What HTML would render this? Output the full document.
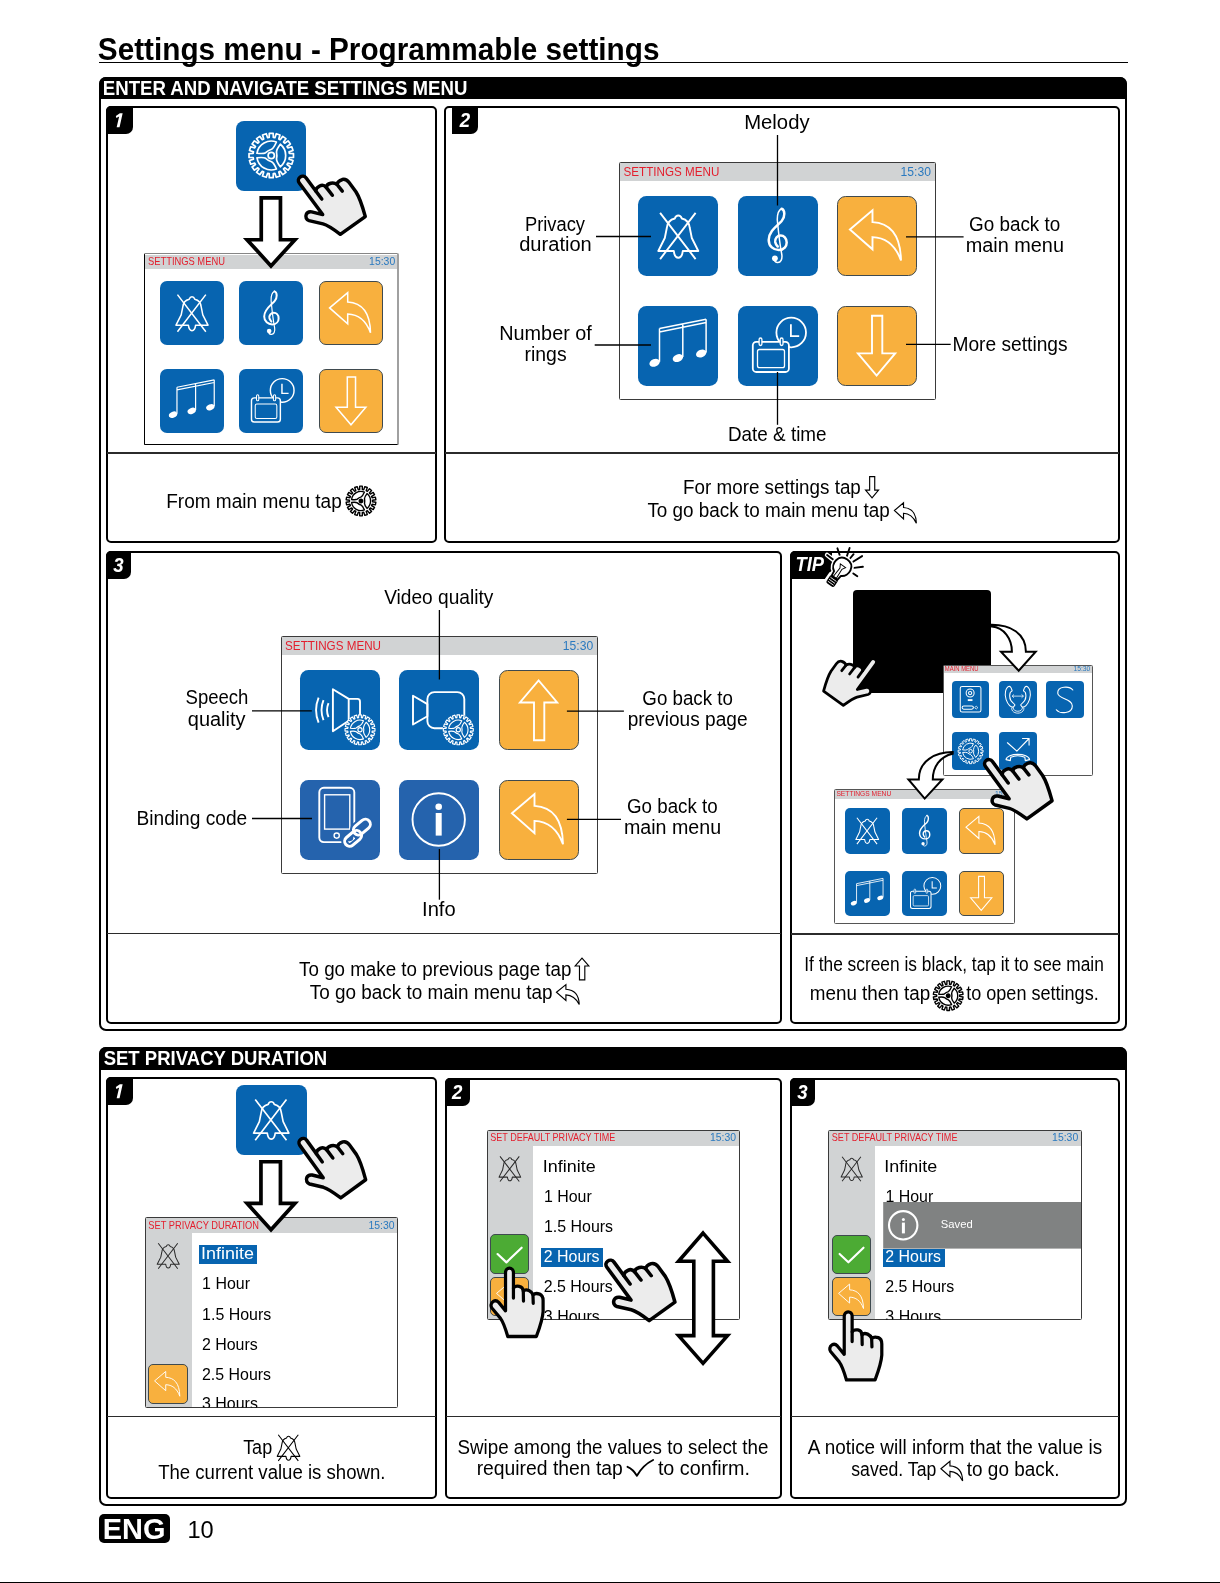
<!DOCTYPE html>
<html><head><meta charset="utf-8"><style>
html,body{margin:0;padding:0;background:#fff}
body{width:1220px;height:1583px;overflow:hidden;position:relative;font-family:"Liberation Sans",sans-serif}
.t{position:absolute;white-space:nowrap;line-height:1;transform-origin:0 0;color:#000;will-change:transform}
.b{position:absolute;box-sizing:border-box}
</style></head><body>
<svg width="0" height="0" style="position:absolute"><defs><symbol id="gear" viewBox="-25 -25 50 50"><g fill="none" stroke="currentColor" stroke-width="1.7" stroke-linejoin="round"><path d="M-2.03 -17.89 L-1.94 -22.01 L1.94 -22.01 L2.03 -17.89 L3.59 -17.64 L4.96 -21.54 L8.65 -20.34 L7.46 -16.38 L8.87 -15.66 L11.37 -18.95 L14.51 -16.67 L12.16 -13.28 L13.28 -12.16 L16.67 -14.51 L18.95 -11.37 L15.66 -8.87 L16.38 -7.46 L20.34 -8.65 L21.54 -4.96 L17.64 -3.59 L17.89 -2.03 L22.01 -1.94 L22.01 1.94 L17.89 2.03 L17.64 3.59 L21.54 4.96 L20.34 8.65 L16.38 7.46 L15.66 8.87 L18.95 11.37 L16.67 14.51 L13.28 12.16 L12.16 13.28 L14.51 16.67 L11.37 18.95 L8.87 15.66 L7.46 16.38 L8.65 20.34 L4.96 21.54 L3.59 17.64 L2.03 17.89 L1.94 22.01 L-1.94 22.01 L-2.03 17.89 L-3.59 17.64 L-4.96 21.54 L-8.65 20.34 L-7.46 16.38 L-8.87 15.66 L-11.37 18.95 L-14.51 16.67 L-12.16 13.28 L-13.28 12.16 L-16.67 14.51 L-18.95 11.37 L-15.66 8.87 L-16.38 7.46 L-20.34 8.65 L-21.54 4.96 L-17.64 3.59 L-17.89 2.03 L-22.01 1.94 L-22.01 -1.94 L-17.89 -2.03 L-17.64 -3.59 L-21.54 -4.96 L-20.34 -8.65 L-16.38 -7.46 L-15.66 -8.87 L-18.95 -11.37 L-16.67 -14.51 L-13.28 -12.16 L-12.16 -13.28 L-14.51 -16.67 L-11.37 -18.95 L-8.87 -15.66 L-7.46 -16.38 L-8.65 -20.34 L-4.96 -21.54 L-3.59 -17.64Z"/><circle r="3.1"/><path d="M-14.12 -2.24 A14.3 14.3 0 0 1 5.12 -13.35 Q2.59 -7.43 0.32 -6.19 Q-2.95 -5.10 -5.52 -2.81 Q-7.73 -1.47 -14.12 -2.24Z M9.00 -11.11 A14.3 14.3 0 0 1 9.00 11.11 Q5.14 5.95 5.20 3.38 Q5.89 -0.00 5.20 -3.38 Q5.14 -5.95 9.00 -11.11Z M5.12 13.35 A14.3 14.3 0 0 1 -14.12 2.24 Q-7.73 1.47 -5.52 2.81 Q-2.94 5.10 0.32 6.19 Q2.59 7.43 5.12 13.35Z "/></g></symbol><symbol id="gearb" viewBox="-25 -25 50 50"><g fill="none" stroke="currentColor" stroke-width="2.1" stroke-linejoin="round"><path d="M-1.99 -17.19 L-1.94 -22.22 L1.94 -22.22 L1.99 -17.19 L4.01 -16.83 L5.77 -21.54 L9.42 -20.21 L7.75 -15.47 L9.52 -14.44 L12.79 -18.27 L15.77 -15.77 L12.57 -11.89 L13.89 -10.31 L18.27 -12.79 L20.21 -9.42 L15.88 -6.87 L16.58 -4.94 L21.54 -5.77 L22.22 -1.94 L17.27 -1.03 L17.27 1.03 L22.22 1.94 L21.54 5.77 L16.58 4.94 L15.88 6.87 L20.21 9.42 L18.27 12.79 L13.89 10.31 L12.57 11.89 L15.77 15.77 L12.79 18.27 L9.52 14.44 L7.75 15.47 L9.42 20.21 L5.77 21.54 L4.01 16.83 L1.99 17.19 L1.94 22.22 L-1.94 22.22 L-1.99 17.19 L-4.01 16.83 L-5.77 21.54 L-9.42 20.21 L-7.75 15.47 L-9.52 14.44 L-12.79 18.27 L-15.77 15.77 L-12.57 11.89 L-13.89 10.31 L-18.27 12.79 L-20.21 9.42 L-15.88 6.87 L-16.58 4.94 L-21.54 5.77 L-22.22 1.94 L-17.27 1.03 L-17.27 -1.03 L-22.22 -1.94 L-21.54 -5.77 L-16.58 -4.94 L-15.88 -6.87 L-20.21 -9.42 L-18.27 -12.79 L-13.89 -10.31 L-12.57 -11.89 L-15.77 -15.77 L-12.79 -18.27 L-9.52 -14.44 L-7.75 -15.47 L-9.42 -20.21 L-5.77 -21.54 L-4.01 -16.83Z"/><circle r="2.6" fill="currentColor"/><path d="M-14.12 -2.24 A14.3 14.3 0 0 1 5.12 -13.35 Q2.59 -7.43 0.32 -6.19 Q-2.95 -5.10 -5.52 -2.81 Q-7.73 -1.47 -14.12 -2.24Z M9.00 -11.11 A14.3 14.3 0 0 1 9.00 11.11 Q5.14 5.95 5.20 3.38 Q5.89 -0.00 5.20 -3.38 Q5.14 -5.95 9.00 -11.11Z M5.12 13.35 A14.3 14.3 0 0 1 -14.12 2.24 Q-7.73 1.47 -5.52 2.81 Q-2.94 5.10 0.32 6.19 Q2.59 7.43 5.12 13.35Z "/></g></symbol><symbol id="bell" viewBox="0 0 80 80"><g fill="none" stroke="currentColor" stroke-width="1.9" stroke-linejoin="round"><path d="M40 19.5 C38 19.5 37 21 36.5 22.5 C31 23.8 29 27 28.5 32 L26.5 42 L20 55 L35.5 55 C36 59.5 37.8 61.8 40 61.8 C42.2 61.8 44 59.5 44.5 55 L60 55 L53.5 42 L51.5 32 C51 27 49 23.8 43.5 22.5 C43 21 42 19.5 40 19.5 Z"/><path d="M21.8 16.8 L57.3 63.1 M57.3 16.8 L21.8 63.1"/></g></symbol><symbol id="clef" viewBox="0 0 80 80"><g fill="none" stroke="currentColor" stroke-linecap="round"><path d="M43.9 12.7 C47.5 14 47.5 21 44 25 C40 29.5 31 35 31 44 C31 50.5 36 54 41 54 C46.5 54 49 50 49 46.5 C49 42 46 39.5 43 39.5 C39.5 39.5 37 42.5 37.5 46 C38 48.5 39.5 50 40 50.5" stroke-width="2.5"/><path d="M43.9 12.7 C41 14 39.5 19 39.6 24 L40.2 30 C41 38 42.5 50 44 58 C45 63 43 67 39.5 66.5 C37.5 66.2 36.5 64.5 36.5 62.5" stroke-width="1.5"/></g><circle cx="37.2" cy="62.3" r="2.9" fill="currentColor"/></symbol><symbol id="back" viewBox="0 0 80 80"><path d="M12.9 33.4 L35.5 14.3 L35.5 26.1 C52 27 63.5 37 64 64.5 C58 48 48 41.5 35.5 41.1 L35.5 53.3 Z" fill="none" stroke="currentColor" stroke-width="1.9" stroke-linejoin="miter"/></symbol><symbol id="notes" viewBox="0 0 80 80"><g fill="currentColor"><ellipse cx="16.3" cy="57.1" rx="5.4" ry="3.7" transform="rotate(-22 16.3 57.1)"/><ellipse cx="39.6" cy="52.4" rx="5.4" ry="3.7" transform="rotate(-22 39.6 52.4)"/><ellipse cx="62.9" cy="47.8" rx="5.4" ry="3.7" transform="rotate(-22 62.9 47.8)"/></g><g stroke="currentColor" stroke-width="1.5" fill="none"><path d="M21.2 56 V22.8 M44.5 51.3 V18.2 M67.8 46.7 V13.5 M21.2 22.8 L67.8 13.5 M21.2 26.2 L67.8 16.9"/></g></symbol><symbol id="cal" viewBox="0 0 80 80"><g fill="none" stroke="currentColor" stroke-width="1.8"><circle cx="53.5" cy="26.8" r="14.8"/><path d="M53.2 18.5 V30.5 H61.5"/><rect x="15.1" y="36.1" width="36.1" height="30.2" rx="3.5" fill="#0764b0"/><rect x="19.8" y="43.8" width="27" height="18.2" rx="2" stroke-width="1.3"/><rect x="21.4" y="32.3" width="2.8" height="7.5" rx="1.4" fill="#0764b0" stroke-width="1.3"/><rect x="42.5" y="32.3" width="2.8" height="7.5" rx="1.4" fill="#0764b0" stroke-width="1.3"/></g></symbol><symbol id="down" viewBox="0 0 80 80"><path d="M35 10 H45.3 V47.7 H58.2 L39.6 69.8 L20.9 47.7 H35 Z" fill="none" stroke="currentColor" stroke-width="1.9"/></symbol><symbol id="up" viewBox="0 0 80 80"><path d="M35 70 H45.3 V32.3 H58.2 L39.6 10.2 L20.9 32.3 H35 Z" fill="none" stroke="currentColor" stroke-width="1.9"/></symbol><symbol id="speaker" viewBox="0 0 80 80"><g fill="none" stroke="#fff" stroke-width="1.9" stroke-linejoin="round"><path d="M32.9 19 L48.7 28.7 L48.7 50.5 L32.9 61 Z"/><path d="M48.7 28.7 H57.5 Q60 28.7 60 31.5 V46"/><path d="M28.5 33 Q25.5 40 28.5 47 M23.5 30 Q19.5 40 23.5 50 M18.6 27.5 Q13.5 40 18.6 52.5"/></g><circle cx="60" cy="59.6" r="15" fill="#0764b0"/><use href="#gear" x="43" y="42.6" width="34" height="34" style="color:#fff"/></symbol><symbol id="camera" viewBox="0 0 80 80"><g fill="none" stroke="#fff" stroke-width="1.9" stroke-linejoin="round"><path d="M14 25.6 L28.4 33.9 L28.4 46 L14 54.3 Z"/><rect x="28.4" y="21.9" width="36.9" height="36.1" rx="7"/></g><circle cx="59.3" cy="59.6" r="15.5" fill="#0764b0"/><use href="#gear" x="42.3" y="42.6" width="34" height="34" style="color:#fff"/></symbol><symbol id="phone" viewBox="0 0 80 80"><g fill="none" stroke="#fff" stroke-width="1.9"><rect x="19.3" y="8" width="35" height="54.3" rx="4.5"/><rect x="24.6" y="15" width="25.2" height="34.3" stroke-width="1.4"/><circle cx="36.7" cy="55.8" r="2.6" stroke-width="1.4"/></g><g transform="rotate(-40 57.5 53)"><rect x="41" y="49.5" width="19" height="10" rx="5" fill="none" stroke="#2563ad" stroke-width="7"/><rect x="55" y="46.5" width="19" height="10" rx="5" fill="none" stroke="#2563ad" stroke-width="7"/><rect x="41" y="49.5" width="19" height="10" rx="5" fill="none" stroke="#fff" stroke-width="3"/><rect x="55" y="46.5" width="19" height="10" rx="5" fill="none" stroke="#2563ad" stroke-width="7" clip-path="none" opacity="0"/><rect x="55" y="46.5" width="19" height="10" rx="5" fill="none" stroke="#fff" stroke-width="3"/></g></symbol><symbol id="info" viewBox="0 0 80 80"><circle cx="39.7" cy="39.7" r="26.2" fill="none" stroke="currentColor" stroke-width="1.9"/><circle cx="39.7" cy="26.9" r="3.3" fill="currentColor"/><rect x="36.7" y="33.2" width="6" height="22.6" fill="currentColor"/></symbol><symbol id="hand" viewBox="0 0 70 82" overflow="visible"><path d="M23.5 49.3 L23.5 11.5 C23.5 9 25.3 7.3 27.5 7.3 C29.7 7.3 31.6 9 31.6 11.5 L31.6 27 C32.5 25.5 35 24.8 37.5 25.2 C40 25.6 41.5 27.5 41.7 30 C43 28.5 45.5 28.5 47.5 29.3 C49.5 30.2 51 31.8 51.6 33.5 C53 32.3 56 32 58.5 32.8 C61 33.8 62 36 62 39 L62 50 C61.5 58 58 67 55.1 74.6 L25.8 74.6 C23.5 67 21 60 18.4 56.8 L9.5 46.5 C8 44.5 8.5 41.5 11 40 C13 38.8 15 39.5 16.5 41 Z" fill="#ececec" stroke="#000" stroke-width="3.3" stroke-linejoin="round"/><path d="M31.6 27 L31.6 36.7 M41.7 30 L41.9 39.6 M51.6 33.5 L51.9 41.9" fill="none" stroke="#000" stroke-width="3.3" stroke-linecap="round"/></symbol><symbol id="check" viewBox="0 0 40 40"><path d="M7.5 20 L16.5 28.5 L32 13.5" fill="none" stroke="currentColor" stroke-width="2.2" stroke-linecap="round" stroke-linejoin="round"/></symbol><symbol id="door" viewBox="0 0 80 80"><g fill="none" stroke="#fff" stroke-width="2.2"><rect x="18" y="12.5" width="44" height="54.5" rx="4"/><circle cx="39" cy="26.5" r="8.5"/><circle cx="39" cy="26.5" r="3.5"/><rect x="22" y="54" width="24" height="7" rx="3.5"/><path d="M52 54.5 L55.5 57.5 L52 60.5 L48.5 57.5 Z" stroke-width="1.6"/></g><rect x="34" y="39.5" width="10" height="4" fill="#fff"/></symbol><symbol id="intercom" viewBox="0 0 80 80"><g fill="none" stroke="#fff" stroke-width="2.2" stroke-linejoin="round"><path d="M22 12 C14 14 11 28 15 40 C19 52 26 58 31 56 L34 52 C31 48 27 46 25 42 C22 36 22 30 24 25 L28 22 C27 17 25 13 22 12 Z"/><path d="M58 12 C66 14 69 28 65 40 C61 52 54 58 49 56 L46 52 C49 48 53 46 55 42 C58 36 58 30 56 25 L52 22 C53 17 55 13 58 12 Z"/><path d="M30 57 C30 68 50 68 50 57 M27 58 C26 73 54 73 53 58" stroke-width="1.8"/><path d="M28 33 H52 M28 33 L32 29.5 M28 33 L32 36.5 M52 33 L48 29.5 M52 33 L48 36.5" stroke-width="1.6"/></g></symbol><symbol id="letterS" viewBox="0 0 80 80"><path d="M57 20 C50 11 24 11 25 27 C26 40 56 38 56 54 C56 70 30 72 22 62" fill="none" stroke="#fff" stroke-width="2.4" stroke-linecap="round"/></symbol><symbol id="transfer" viewBox="0 0 80 80"><g fill="none" stroke="#fff" stroke-width="2.4" stroke-linejoin="round" stroke-linecap="round"><path d="M18 22 L38 40 L64 13 M50 13 H64 V27"/><path d="M15 58 C16 43 64 43 65 58 L56 60 L55 53 C46 49 34 49 25 53 L24 60 Z"/></g></symbol></defs></svg>
<div class="b" style="left:99.00px;top:61.90px;width:1029.00px;height:1.30px;background:#000"></div>
<div class="b" style="left:99.00px;top:77.00px;width:1028.00px;height:954.00px;border:2px solid #000;border-radius:7px"></div>
<div class="b" style="left:99.00px;top:77.00px;width:1028.00px;height:22.00px;background:#000;border-radius:7px 7px 0 0"></div>
<div class="b" style="left:99.00px;top:1047.00px;width:1028.00px;height:458.50px;border:2px solid #000;border-radius:7px"></div>
<div class="b" style="left:99.00px;top:1047.00px;width:1028.00px;height:23.00px;background:#000;border-radius:7px 7px 0 0"></div>
<div class="b" style="left:106.00px;top:106.00px;width:331.00px;height:437.00px;border:2px solid #000;border-radius:5px"></div>
<div class="b" style="left:107.00px;top:452.20px;width:329.00px;height:1.60px;background:#2b2b2b"></div>
<div class="b" style="left:106.00px;top:106.00px;width:26.50px;height:27.50px;background:#000;border-radius:5px 0 7px 0"></div>
<div class="b" style="left:444.00px;top:106.00px;width:676.00px;height:437.00px;border:2px solid #000;border-radius:5px"></div>
<div class="b" style="left:445.00px;top:452.20px;width:674.00px;height:1.60px;background:#2b2b2b"></div>
<div class="b" style="left:451.70px;top:106.00px;width:26.20px;height:27.80px;background:#000;border-radius:0 0 7px 0"></div>
<div class="b" style="left:106.00px;top:551.00px;width:676.00px;height:473.00px;border:2px solid #000;border-radius:5px"></div>
<div class="b" style="left:107.00px;top:932.90px;width:674.00px;height:1.60px;background:#2b2b2b"></div>
<div class="b" style="left:106.00px;top:551.00px;width:25.00px;height:27.50px;background:#000;border-radius:5px 0 7px 0"></div>
<div class="b" style="left:790.00px;top:551.00px;width:330.00px;height:473.00px;border:2px solid #000;border-radius:5px"></div>
<div class="b" style="left:791.00px;top:933.40px;width:328.00px;height:1.60px;background:#2b2b2b"></div>
<div class="b" style="left:106.00px;top:1077.00px;width:331.00px;height:422.00px;border:2px solid #000;border-radius:5px"></div>
<div class="b" style="left:107.00px;top:1415.50px;width:329.00px;height:1.60px;background:#2b2b2b"></div>
<div class="b" style="left:106.00px;top:1077.00px;width:26.50px;height:27.50px;background:#000;border-radius:5px 0 7px 0"></div>
<div class="b" style="left:444.50px;top:1078.00px;width:337.50px;height:421.00px;border:2px solid #000;border-radius:5px"></div>
<div class="b" style="left:445.50px;top:1415.50px;width:335.50px;height:1.60px;background:#2b2b2b"></div>
<div class="b" style="left:444.50px;top:1078.00px;width:25.00px;height:27.50px;background:#000;border-radius:5px 0 7px 0"></div>
<div class="b" style="left:790.00px;top:1078.00px;width:330.00px;height:421.00px;border:2px solid #000;border-radius:5px"></div>
<div class="b" style="left:791.00px;top:1415.50px;width:328.00px;height:1.60px;background:#2b2b2b"></div>
<div class="b" style="left:790.00px;top:1078.00px;width:25.00px;height:27.50px;background:#000;border-radius:5px 0 7px 0"></div>
<div class="b" style="left:790.00px;top:551.00px;width:42.00px;height:27.70px;background:#000;border-radius:5px 0 7px 0"></div>
<div class="b" style="left:99.00px;top:1514.20px;width:70.50px;height:29.30px;background:#000;border-radius:5px"></div>
<div class="b" style="left:0.00px;top:1582.00px;width:1220.00px;height:1.00px;background:#000"></div>
<div class="b" style="left:236.00px;top:121.00px;width:70.00px;height:70.00px;background:#0764b0;border-radius:8.0px"></div>
<div class="b" style="left:144.20px;top:253.20px;width:254.80px;height:191.90px;background:#fff;border:1px solid #3a3a3a;border-radius:1.5px;border-style:solid;border-color:#868686 #a0a0a0 #000 #000;border-width:1.8px 2px 1.3px 1.1px"></div>
<div class="b" style="left:145.20px;top:255.00px;width:251.80px;height:14.00px;background:#d1d3d4"></div>
<div class="b" style="left:160.00px;top:281.20px;width:64.00px;height:64.00px;background:#0764b0;border-radius:7.0px"></div>
<div class="b" style="left:239.40px;top:281.20px;width:64.00px;height:64.00px;background:#0764b0;border-radius:7.0px"></div>
<div class="b" style="left:319.30px;top:281.20px;width:64.00px;height:64.00px;background:#f8b03e;border-radius:7.0px;border:1px solid #3f4a4f"></div>
<div class="b" style="left:160.00px;top:369.00px;width:64.00px;height:64.00px;background:#0764b0;border-radius:7.0px"></div>
<div class="b" style="left:239.40px;top:369.00px;width:64.00px;height:64.00px;background:#0764b0;border-radius:7.0px"></div>
<div class="b" style="left:319.30px;top:369.00px;width:64.00px;height:64.00px;background:#f8b03e;border-radius:7.0px;border:1px solid #3f4a4f"></div>
<div class="b" style="left:619.00px;top:162.00px;width:316.60px;height:238.00px;background:#fff;border:1px solid #3a3a3a;border-radius:1.5px"></div>
<div class="b" style="left:620.00px;top:163.00px;width:314.60px;height:18.00px;background:#d1d3d4"></div>
<div class="b" style="left:638.30px;top:196.00px;width:80.00px;height:80.00px;background:#0764b0;border-radius:8.5px"></div>
<div class="b" style="left:737.70px;top:196.00px;width:80.00px;height:80.00px;background:#0764b0;border-radius:8.5px"></div>
<div class="b" style="left:837.00px;top:196.00px;width:80.00px;height:80.00px;background:#f8b03e;border-radius:8.5px;border:1px solid #3f4a4f"></div>
<div class="b" style="left:638.30px;top:305.70px;width:80.00px;height:80.00px;background:#0764b0;border-radius:8.5px"></div>
<div class="b" style="left:737.70px;top:305.70px;width:80.00px;height:80.00px;background:#0764b0;border-radius:8.5px"></div>
<div class="b" style="left:837.00px;top:305.70px;width:80.00px;height:80.00px;background:#f8b03e;border-radius:8.5px;border:1px solid #3f4a4f"></div>
<div class="b" style="left:280.50px;top:636.00px;width:317.30px;height:237.70px;background:#fff;border:1px solid #3a3a3a;border-radius:1.5px"></div>
<div class="b" style="left:281.50px;top:637.00px;width:315.30px;height:18.00px;background:#d1d3d4"></div>
<div class="b" style="left:300.00px;top:670.20px;width:80.00px;height:80.00px;background:#0764b0;border-radius:8.5px"></div>
<div class="b" style="left:399.00px;top:670.20px;width:80.00px;height:80.00px;background:#0764b0;border-radius:8.5px"></div>
<div class="b" style="left:499.00px;top:670.20px;width:80.00px;height:80.00px;background:#f8b03e;border-radius:8.5px;border:1px solid #3f4a4f"></div>
<div class="b" style="left:300.00px;top:779.80px;width:80.00px;height:80.00px;background:#2563ad;border-radius:8.5px"></div>
<div class="b" style="left:399.00px;top:779.80px;width:80.00px;height:80.00px;background:#2563ad;border-radius:8.5px"></div>
<div class="b" style="left:499.00px;top:779.80px;width:80.00px;height:80.00px;background:#f8b03e;border-radius:8.5px;border:1px solid #3f4a4f"></div>
<div class="b" style="left:852.60px;top:589.60px;width:138.80px;height:103.90px;background:#000;border-radius:4px"></div>
<div class="b" style="left:942.60px;top:664.60px;width:150.20px;height:111.70px;background:#fff;border:1px solid #555;border-radius:1.5px"></div>
<div class="b" style="left:943.60px;top:665.60px;width:148.20px;height:7.10px;background:#d1d3d4"></div>
<div class="b" style="left:951.80px;top:680.60px;width:37.60px;height:37.60px;background:#0764b0;border-radius:4.0px"></div>
<div class="b" style="left:999.00px;top:680.60px;width:37.60px;height:37.60px;background:#0764b0;border-radius:4.0px"></div>
<div class="b" style="left:1046.00px;top:680.60px;width:37.60px;height:37.60px;background:#0764b0;border-radius:4.0px"></div>
<div class="b" style="left:951.80px;top:732.40px;width:37.60px;height:37.60px;background:#0764b0;border-radius:4.0px"></div>
<div class="b" style="left:999.00px;top:732.40px;width:37.60px;height:37.60px;background:#0764b0;border-radius:4.0px"></div>
<div class="b" style="left:833.60px;top:788.70px;width:181.60px;height:135.70px;background:#fff;border:1px solid #555;border-radius:1.5px"></div>
<div class="b" style="left:834.60px;top:789.70px;width:179.60px;height:9.00px;background:#d1d3d4"></div>
<div class="b" style="left:844.50px;top:808.20px;width:45.50px;height:45.50px;background:#0764b0;border-radius:5.0px"></div>
<div class="b" style="left:901.90px;top:808.20px;width:45.50px;height:45.50px;background:#0764b0;border-radius:5.0px"></div>
<div class="b" style="left:958.70px;top:808.20px;width:45.50px;height:45.50px;background:#f8b03e;border-radius:5.0px;border:1px solid #3f4a4f"></div>
<div class="b" style="left:844.50px;top:870.70px;width:45.50px;height:45.50px;background:#0764b0;border-radius:5.0px"></div>
<div class="b" style="left:901.90px;top:870.70px;width:45.50px;height:45.50px;background:#0764b0;border-radius:5.0px"></div>
<div class="b" style="left:958.70px;top:870.70px;width:45.50px;height:45.50px;background:#f8b03e;border-radius:5.0px;border:1px solid #3f4a4f"></div>
<div class="b" style="left:236.00px;top:1084.60px;width:70.50px;height:70.50px;background:#0764b0;border-radius:8.0px"></div>
<div class="b" style="left:144.50px;top:1217.30px;width:253.80px;height:190.90px;background:#fff;border:1px solid #3a3a3a;border-radius:1.5px"></div>
<div class="b" style="left:145.50px;top:1218.30px;width:251.80px;height:14.70px;background:#d1d3d4"></div>
<div class="b" style="left:145.50px;top:1233.00px;width:46.50px;height:174.20px;background:#d1d3d4"></div>
<div class="b" style="left:148.20px;top:1364.40px;width:39.50px;height:39.50px;background:#f8b03e;border-radius:5.0px;border:1px solid #3f4a4f"></div>
<div class="b" style="left:199.00px;top:1245.10px;width:58.00px;height:18.80px;background:#0764b0"></div>
<div class="b" style="left:486.50px;top:1130.20px;width:253.30px;height:190.20px;background:#fff;border:1px solid #3a3a3a;border-radius:1.5px"></div>
<div class="b" style="left:487.50px;top:1131.20px;width:251.30px;height:14.80px;background:#d1d3d4"></div>
<div class="b" style="left:487.50px;top:1146.00px;width:45.70px;height:173.40px;background:#d1d3d4"></div>
<div class="b" style="left:540.80px;top:1248.00px;width:62.30px;height:18.80px;background:#0764b0"></div>
<div class="b" style="left:490.20px;top:1234.40px;width:39.30px;height:39.30px;background:#4cab34;border-radius:5.0px;border:1px solid #3f4a4f"></div>
<div class="b" style="left:490.20px;top:1277.00px;width:39.30px;height:39.30px;background:#f8b03e;border-radius:5.0px;border:1px solid #3f4a4f"></div>
<div class="b" style="left:828.00px;top:1130.20px;width:254.00px;height:190.20px;background:#fff;border:1px solid #3a3a3a;border-radius:1.5px"></div>
<div class="b" style="left:829.00px;top:1131.20px;width:252.00px;height:14.80px;background:#d1d3d4"></div>
<div class="b" style="left:829.00px;top:1146.00px;width:46.40px;height:173.40px;background:#d1d3d4"></div>
<div class="b" style="left:883.20px;top:1249.10px;width:61.70px;height:17.50px;background:#0764b0"></div>
<div class="b" style="left:832.30px;top:1234.50px;width:39.00px;height:39.00px;background:#4cab34;border-radius:5.0px;border:1px solid #3f4a4f"></div>
<div class="b" style="left:832.30px;top:1277.10px;width:39.00px;height:39.00px;background:#f8b03e;border-radius:5.0px;border:1px solid #3f4a4f"></div>
<svg style="position:absolute;left:0;top:0;will-change:transform" width="1220" height="1583" viewBox="0 0 1220 1583" font-family="Liberation Sans, sans-serif"><text x="97.81" y="59.80" font-size="30.43" textLength="561.67" lengthAdjust="spacingAndGlyphs" font-weight="bold" fill="#000">Settings menu - Programmable settings</text>
<text x="102.79" y="94.60" font-size="20.29" textLength="364.60" lengthAdjust="spacingAndGlyphs" font-weight="bold" fill="#fff">ENTER AND NAVIGATE SETTINGS MENU</text>
<text x="103.64" y="1064.80" font-size="20.29" textLength="223.60" lengthAdjust="spacingAndGlyphs" font-weight="bold" fill="#fff">SET PRIVACY DURATION</text>
<path d="M119.85 113.20 L122.65 113.20 L119.55 127.20 L116.65 127.20 L119.15 116.40 L116.35 118.00 L115.85 115.90 Z" fill="#fff"/><text x="459.85" y="127.00" font-size="20.29" textLength="10.38" lengthAdjust="spacingAndGlyphs" font-weight="bold" font-style="italic" fill="#fff">2</text>
<text x="113.32" y="572.00" font-size="20.29" textLength="10.38" lengthAdjust="spacingAndGlyphs" font-weight="bold" font-style="italic" fill="#fff">3</text>
<path d="M119.85 1084.20 L122.65 1084.20 L119.55 1098.20 L116.65 1098.20 L119.15 1087.40 L116.35 1089.00 L115.85 1086.90 Z" fill="#fff"/><text x="452.05" y="1099.00" font-size="20.29" textLength="10.38" lengthAdjust="spacingAndGlyphs" font-weight="bold" font-style="italic" fill="#fff">2</text>
<text x="797.32" y="1099.00" font-size="20.29" textLength="10.38" lengthAdjust="spacingAndGlyphs" font-weight="bold" font-style="italic" fill="#fff">3</text>
<text x="795.52" y="570.80" font-size="20.29" textLength="28.50" lengthAdjust="spacingAndGlyphs" font-weight="bold" font-style="italic" fill="#fff">TIP</text>
<text x="102.72" y="1539.00" font-size="29.71" textLength="62.67" lengthAdjust="spacingAndGlyphs" font-weight="bold" fill="#fff">ENG</text>
<text x="187.43" y="1537.80" font-size="24.64" textLength="26.25" lengthAdjust="spacingAndGlyphs" fill="#000">10</text>
<use href="#gear" x="246.00" y="130.25" width="50.50" height="50.50" style="color:#fff" /><path d="M261.25 197.85 H280.45 V239.75 H294.93 L271.00 265.93 L247.07 239.75 H261.25 Z" fill="#fff" stroke="#000" stroke-width="3.7" stroke-linejoin="miter"/><text x="147.97" y="265.00" font-size="11.59" textLength="76.96" lengthAdjust="spacingAndGlyphs" fill="#e31e2d">SETTINGS MENU</text>
<text x="369.08" y="265.00" font-size="11.59" textLength="26.11" lengthAdjust="spacingAndGlyphs" fill="#2a79bf">15:30</text>
<use href="#bell" x="160.00" y="281.20" width="64.00" height="64.00" style="color:#fff" /><use href="#clef" x="239.40" y="281.20" width="64.00" height="64.00" style="color:#fff" /><use href="#back" x="319.30" y="281.20" width="64.00" height="64.00" style="color:#fff" /><use href="#notes" x="160.00" y="369.00" width="64.00" height="64.00" style="color:#fff" /><use href="#cal" x="239.40" y="369.00" width="64.00" height="64.00" style="color:#fff" /><use href="#down" x="319.30" y="369.00" width="64.00" height="64.00" style="color:#fff" /><text x="166.18" y="507.50" font-size="19.57" textLength="175.60" lengthAdjust="spacingAndGlyphs" fill="#000">From main menu tap</text>
<use href="#gearb" x="344.30" y="484.30" width="33.40" height="33.40" style="color:#000" /><text x="623.57" y="175.80" font-size="13.48" textLength="95.74" lengthAdjust="spacingAndGlyphs" fill="#e31e2d">SETTINGS MENU</text>
<text x="900.61" y="175.80" font-size="13.48" textLength="30.36" lengthAdjust="spacingAndGlyphs" fill="#2a79bf">15:30</text>
<use href="#bell" x="638.30" y="196.00" width="80.00" height="80.00" style="color:#fff" /><use href="#clef" x="737.70" y="196.00" width="80.00" height="80.00" style="color:#fff" /><use href="#back" x="837.00" y="196.00" width="80.00" height="80.00" style="color:#fff" /><use href="#notes" x="638.30" y="305.70" width="80.00" height="80.00" style="color:#fff" /><use href="#cal" x="737.70" y="305.70" width="80.00" height="80.00" style="color:#fff" /><use href="#down" x="837.00" y="305.70" width="80.00" height="80.00" style="color:#fff" /><text x="744.17" y="128.90" font-size="20.29" textLength="65.41" lengthAdjust="spacingAndGlyphs" fill="#000">Melody</text>
<path d="M777.50 135.00 L777.50 205.50" stroke="#000" stroke-width="1.3" fill="none"/><text x="524.93" y="231.00" font-size="20.00" textLength="60.04" lengthAdjust="spacingAndGlyphs" fill="#000">Privacy</text>
<text x="519.20" y="251.30" font-size="20.00" textLength="72.59" lengthAdjust="spacingAndGlyphs" fill="#000">duration</text>
<path d="M596.00 236.50 L651.00 236.50" stroke="#000" stroke-width="1.3" fill="none"/><text x="969.06" y="231.00" font-size="20.00" textLength="91.22" lengthAdjust="spacingAndGlyphs" fill="#000">Go back to</text>
<text x="965.71" y="252.00" font-size="20.00" textLength="98.22" lengthAdjust="spacingAndGlyphs" fill="#000">main menu</text>
<path d="M906.00 236.80 L963.60 236.80" stroke="#000" stroke-width="1.3" fill="none"/><text x="499.21" y="339.90" font-size="20.00" textLength="92.66" lengthAdjust="spacingAndGlyphs" fill="#000">Number of</text>
<text x="524.54" y="360.80" font-size="20.00" textLength="42.09" lengthAdjust="spacingAndGlyphs" fill="#000">rings</text>
<path d="M594.70 345.00 L651.00 345.00" stroke="#000" stroke-width="1.3" fill="none"/><text x="952.47" y="350.80" font-size="20.00" textLength="115.16" lengthAdjust="spacingAndGlyphs" fill="#000">More settings</text>
<path d="M906.00 344.40 L950.70 344.40" stroke="#000" stroke-width="1.3" fill="none"/><text x="727.99" y="440.70" font-size="20.29" textLength="98.54" lengthAdjust="spacingAndGlyphs" fill="#000">Date &amp; time</text>
<path d="M777.50 372.00 L777.50 424.80" stroke="#000" stroke-width="1.3" fill="none"/><text x="683.10" y="493.80" font-size="19.57" textLength="177.72" lengthAdjust="spacingAndGlyphs" fill="#000">For more settings tap</text>
<path d="M869.65 476.57 H874.73 V490.11 H878.52 L872.05 497.82 L865.58 490.11 H869.65 Z" fill="none" stroke="#000" stroke-width="1.15" stroke-linejoin="miter"/><text x="647.42" y="517.20" font-size="19.57" textLength="242.35" lengthAdjust="spacingAndGlyphs" fill="#000">To go back to main menu tap</text>
<path d="M894.45 510.49 L903.53 502.75 L903.53 507.48 C911.03 507.91 916.02 512.85 916.36 523.17 C913.30 516.72 909.44 513.50 903.53 513.28 L903.53 518.87 Z" fill="none" stroke="#000" stroke-width="1.15" stroke-linejoin="miter"/><text x="285.08" y="650.00" font-size="13.48" textLength="95.93" lengthAdjust="spacingAndGlyphs" fill="#e31e2d">SETTINGS MENU</text>
<text x="562.80" y="650.00" font-size="13.48" textLength="30.36" lengthAdjust="spacingAndGlyphs" fill="#2a79bf">15:30</text>
<use href="#speaker" x="300.00" y="670.20" width="80.00" height="80.00" style="color:#fff" /><use href="#camera" x="399.00" y="670.20" width="80.00" height="80.00" style="color:#fff" /><use href="#up" x="499.00" y="670.20" width="80.00" height="80.00" style="color:#fff" /><use href="#phone" x="300.00" y="779.80" width="80.00" height="80.00" style="color:#fff" /><use href="#info" x="399.00" y="779.80" width="80.00" height="80.00" style="color:#fff" /><use href="#back" x="499.00" y="779.80" width="80.00" height="80.00" style="color:#fff" /><text x="384.20" y="603.90" font-size="20.29" textLength="109.16" lengthAdjust="spacingAndGlyphs" fill="#000">Video quality</text>
<path d="M439.40 610.00 L439.40 679.50" stroke="#000" stroke-width="1.3" fill="none"/><text x="185.57" y="704.40" font-size="20.00" textLength="62.87" lengthAdjust="spacingAndGlyphs" fill="#000">Speech</text>
<text x="187.80" y="726.00" font-size="20.00" textLength="57.71" lengthAdjust="spacingAndGlyphs" fill="#000">quality</text>
<path d="M252.00 710.80 L311.80 710.80" stroke="#000" stroke-width="1.3" fill="none"/><text x="642.36" y="704.90" font-size="20.00" textLength="90.50" lengthAdjust="spacingAndGlyphs" fill="#000">Go back to</text>
<text x="627.66" y="726.20" font-size="20.00" textLength="119.84" lengthAdjust="spacingAndGlyphs" fill="#000">previous page</text>
<path d="M566.90 711.10 L623.90 711.10" stroke="#000" stroke-width="1.3" fill="none"/><text x="136.47" y="825.40" font-size="20.00" textLength="110.74" lengthAdjust="spacingAndGlyphs" fill="#000">Binding code</text>
<path d="M252.00 818.50 L312.00 818.50" stroke="#000" stroke-width="1.3" fill="none"/><text x="627.06" y="812.50" font-size="20.00" textLength="90.60" lengthAdjust="spacingAndGlyphs" fill="#000">Go back to</text>
<text x="623.92" y="834.40" font-size="20.00" textLength="97.19" lengthAdjust="spacingAndGlyphs" fill="#000">main menu</text>
<path d="M566.90 819.30 L621.00 819.30" stroke="#000" stroke-width="1.3" fill="none"/><text x="422.09" y="915.70" font-size="20.29" textLength="33.58" lengthAdjust="spacingAndGlyphs" fill="#000">Info</text>
<path d="M439.40 849.00 L439.40 899.70" stroke="#000" stroke-width="1.3" fill="none"/><text x="299.12" y="975.70" font-size="19.57" textLength="272.32" lengthAdjust="spacingAndGlyphs" fill="#000">To go make to previous page tap</text>
<path d="M579.48 979.82 H584.81 V965.97 H588.82 L582.00 958.08 L575.18 965.97 H579.48 Z" fill="none" stroke="#000" stroke-width="1.15" stroke-linejoin="miter"/><text x="309.72" y="999.30" font-size="19.57" textLength="242.75" lengthAdjust="spacingAndGlyphs" fill="#000">To go back to main menu tap</text>
<path d="M556.47 992.19 L565.91 984.63 L565.91 989.25 C573.70 989.67 578.89 994.50 579.25 1004.58 C576.06 998.28 572.05 995.13 565.91 994.92 L565.91 1000.38 Z" fill="none" stroke="#000" stroke-width="1.15" stroke-linejoin="miter"/><text x="944.81" y="670.60" font-size="7.54" textLength="33.65" lengthAdjust="spacingAndGlyphs" fill="#e31e2d">MAIN MENU</text>
<text x="1073.40" y="670.60" font-size="7.54" textLength="16.97" lengthAdjust="spacingAndGlyphs" fill="#2a79bf">15:30</text>
<use href="#door" x="951.80" y="680.60" width="37.60" height="37.60" style="color:#fff" /><use href="#intercom" x="999.00" y="680.60" width="37.60" height="37.60" style="color:#fff" /><use href="#letterS" x="1046.00" y="680.60" width="37.60" height="37.60" style="color:#fff" /><use href="#gear" x="956.45" y="737.05" width="28.30" height="28.30" style="color:#fff" /><use href="#transfer" x="999.00" y="732.40" width="37.60" height="37.60" style="color:#fff" /><text x="836.43" y="795.80" font-size="7.68" textLength="54.79" lengthAdjust="spacingAndGlyphs" fill="#e31e2d">SETTINGS MENU</text>
<text x="995.03" y="795.80" font-size="7.68" textLength="17.30" lengthAdjust="spacingAndGlyphs" fill="#2a79bf">15:30</text>
<use href="#bell" x="844.50" y="808.20" width="45.50" height="45.50" style="color:#fff" /><use href="#clef" x="901.90" y="808.20" width="45.50" height="45.50" style="color:#fff" /><use href="#back" x="958.70" y="808.20" width="45.50" height="45.50" style="color:#fff" /><use href="#notes" x="844.50" y="870.70" width="45.50" height="45.50" style="color:#fff" /><use href="#cal" x="901.90" y="870.70" width="45.50" height="45.50" style="color:#fff" /><use href="#down" x="958.70" y="870.70" width="45.50" height="45.50" style="color:#fff" /><path d="M991.8 624.8 C1010 624.8 1025.9 633 1025.9 651.7 H1035.7 L1018.7 670.7 L1001 651.7 H1011.9 C1011.9 639 1004 627.5 991.8 626.6 Z" fill="#fff" stroke="#000" stroke-width="2"/><path d="M952.7 752.1 C935 752.1 918.8 761 918.8 779.4 H908.4 L924.7 798.6 L942.4 779.4 H932.8 C932.8 767 940 756.5 952.7 753.8 Z" fill="#fff" stroke="#000" stroke-width="2"/><text x="804.24" y="971.40" font-size="19.57" textLength="299.61" lengthAdjust="spacingAndGlyphs" fill="#000">If the screen is black, tap it to see main</text>
<text x="809.78" y="1000.40" font-size="19.57" textLength="120.45" lengthAdjust="spacingAndGlyphs" fill="#000">menu then tap</text>
<use href="#gearb" x="931.50" y="979.00" width="33.40" height="33.40" style="color:#000" /><text x="966.23" y="1000.40" font-size="19.57" textLength="132.46" lengthAdjust="spacingAndGlyphs" fill="#000">to open settings.</text>
<path d="M827.1 555 L833.7 560.1" stroke="#fff" stroke-width="4.5" stroke-linecap="round"/><g stroke="#000" stroke-width="1.9" stroke-linecap="round"><path d="M827.1 555 L833.7 560.1 M837.4 548.3 L840.4 557.2 M849.6 548 L846.3 557.9 M853.6 554.2 L849.6 559 M862.1 556.1 L852.2 562.3 M862.9 566.8 L854 567.9 M857.3 576.3 L853.3 573.4"/></g><g transform="translate(841.8 567.4) rotate(35)"><path d="M-4.2 7.5 C-11.5 3.5 -10.5 -9.6 0 -9.6 C10.5 -9.6 11.5 3.5 4.2 7.5 L3.6 12.5 H-3.6 Z M-4.8 12 H4.8 V19.5 Q4.8 21.5 2.5 21.5 H-2.5 Q-4.8 21.5 -4.8 19.5 Z" fill="#fff" stroke="#fff" stroke-width="5" stroke-linejoin="round"/><path d="M-4.2 7.5 C-11.5 3.5 -10.5 -9.6 0 -9.6 C10.5 -9.6 11.5 3.5 4.2 7.5 L3.6 12.5 H-3.6 Z" fill="#fff" stroke="#000" stroke-width="1.9" stroke-linejoin="round"/><path d="M-1.8 12 L-1.2 1.5 L-3.2 -2 L3.2 -2 L1.2 1.5 L1.8 12" fill="none" stroke="#000" stroke-width="1"/><rect x="-4.8" y="12" width="9.6" height="9.5" rx="2.6" fill="#000"/><path d="M-3.6 14.6 H3.6 M-3.6 17 H3.6 M-3.6 19.3 H3.6" stroke="#fff" stroke-width="0.8"/></g><use href="#bell" x="236.00" y="1084.60" width="70.50" height="70.50" style="color:#fff" /><text x="148.26" y="1229.30" font-size="11.59" textLength="110.81" lengthAdjust="spacingAndGlyphs" fill="#e31e2d">SET PRIVACY DURATION</text>
<text x="368.40" y="1229.30" font-size="11.59" textLength="26.11" lengthAdjust="spacingAndGlyphs" fill="#2a79bf">15:30</text>
<path d="M260.95 1161.75 H280.45 V1203.35 H294.93 L271.00 1229.83 L247.07 1203.35 H260.95 Z" fill="#fff" stroke="#000" stroke-width="3.7" stroke-linejoin="miter"/><use href="#bell" x="146.21" y="1233.57" width="44.03" height="44.92" style="color:#2b2b2b" /><use href="#back" x="148.20" y="1364.40" width="39.50" height="39.50" style="color:#fff" /><text x="201.09" y="1259.00" font-size="16.81" textLength="52.85" lengthAdjust="spacingAndGlyphs" fill="#fff">Infinite</text>
<text x="202.10" y="1289.10" font-size="16.81" textLength="47.88" lengthAdjust="spacingAndGlyphs" fill="#000">1 Hour</text>
<text x="202.10" y="1319.80" font-size="16.81" textLength="69.16" lengthAdjust="spacingAndGlyphs" fill="#000">1.5 Hours</text>
<text x="201.90" y="1350.00" font-size="16.81" textLength="55.86" lengthAdjust="spacingAndGlyphs" fill="#000">2 Hours</text>
<text x="201.90" y="1379.80" font-size="16.81" textLength="69.16" lengthAdjust="spacingAndGlyphs" fill="#000">2.5 Hours</text>
<clipPath id="clip202"><rect x="192.7" y="1389" width="120" height="18.50"/></clipPath><text x="202.06" y="1409.00" font-size="16.81" textLength="55.86" lengthAdjust="spacingAndGlyphs" fill="#000" clip-path="url(#clip202)">3 Hours</text>
<text x="243.14" y="1453.60" font-size="19.57" textLength="29.02" lengthAdjust="spacingAndGlyphs" fill="#000">Tap</text>
<use href="#bell" x="265.92" y="1424.82" width="45.21" height="46.11" style="color:#000" /><text x="158.13" y="1478.70" font-size="19.57" textLength="227.31" lengthAdjust="spacingAndGlyphs" fill="#000">The current value is shown.</text>
<text x="490.27" y="1141.10" font-size="11.59" textLength="125.12" lengthAdjust="spacingAndGlyphs" fill="#e31e2d">SET DEFAULT PRIVACY TIME</text>
<text x="709.91" y="1141.10" font-size="11.59" textLength="26.11" lengthAdjust="spacingAndGlyphs" fill="#2a79bf">15:30</text>
<use href="#bell" x="488.16" y="1146.60" width="43.44" height="44.75" style="color:#2b2b2b" /><text x="542.89" y="1171.80" font-size="16.81" textLength="52.85" lengthAdjust="spacingAndGlyphs" fill="#000">Infinite</text>
<text x="543.90" y="1201.70" font-size="16.81" textLength="47.88" lengthAdjust="spacingAndGlyphs" fill="#000">1 Hour</text>
<text x="543.90" y="1231.60" font-size="16.81" textLength="69.16" lengthAdjust="spacingAndGlyphs" fill="#000">1.5 Hours</text>
<text x="543.70" y="1261.70" font-size="16.81" textLength="55.86" lengthAdjust="spacingAndGlyphs" fill="#fff">2 Hours</text>
<text x="543.70" y="1292.10" font-size="16.81" textLength="69.16" lengthAdjust="spacingAndGlyphs" fill="#000">2.5 Hours</text>
<clipPath id="clip544"><rect x="534.5" y="1301.7" width="120" height="17.90"/></clipPath><text x="543.86" y="1321.70" font-size="16.81" textLength="55.86" lengthAdjust="spacingAndGlyphs" fill="#000" clip-path="url(#clip544)">3 Hours</text>
<use href="#check" x="490.20" y="1234.40" width="39.30" height="39.30" style="color:#fff" /><use href="#back" x="490.20" y="1277.00" width="39.30" height="39.30" style="color:#fff" /><path d="M703.05 1233.10 L727.54 1261.20 H713.40 V1335.60 H727.54 L703.05 1363.40 L678.56 1335.60 H693.80 V1261.20 H678.56 Z" fill="#fff" stroke="#000" stroke-width="3.6" stroke-linejoin="miter"/><text x="457.56" y="1454.30" font-size="19.57" textLength="310.80" lengthAdjust="spacingAndGlyphs" fill="#000">Swipe among the values to select the</text>
<text x="476.64" y="1475.20" font-size="19.57" textLength="146.15" lengthAdjust="spacingAndGlyphs" fill="#000">required then tap</text>
<path d="M627.5 1466.8 Q633 1469 636.9 1475.8 Q643 1465 653.1 1460" fill="none" stroke="#000" stroke-width="1.9" stroke-linecap="round" stroke-linejoin="round"/><text x="657.90" y="1475.20" font-size="19.57" textLength="92.13" lengthAdjust="spacingAndGlyphs" fill="#000">to confirm.</text>
<text x="831.77" y="1141.10" font-size="11.59" textLength="125.72" lengthAdjust="spacingAndGlyphs" fill="#e31e2d">SET DEFAULT PRIVACY TIME</text>
<text x="1052.10" y="1141.10" font-size="11.59" textLength="26.11" lengthAdjust="spacingAndGlyphs" fill="#2a79bf">15:30</text>
<use href="#bell" x="830.50" y="1146.57" width="42.46" height="44.92" style="color:#2b2b2b" /><text x="884.39" y="1171.80" font-size="16.81" textLength="52.85" lengthAdjust="spacingAndGlyphs" fill="#000">Infinite</text>
<text x="885.40" y="1201.70" font-size="16.81" textLength="47.88" lengthAdjust="spacingAndGlyphs" fill="#000">1 Hour</text>
<text x="885.40" y="1231.60" font-size="16.81" textLength="69.16" lengthAdjust="spacingAndGlyphs" fill="#000">1.5 Hours</text>
<text x="885.20" y="1261.70" font-size="16.81" textLength="55.86" lengthAdjust="spacingAndGlyphs" fill="#fff">2 Hours</text>
<text x="885.20" y="1292.10" font-size="16.81" textLength="69.16" lengthAdjust="spacingAndGlyphs" fill="#000">2.5 Hours</text>
<clipPath id="clip886"><rect x="876" y="1301.7" width="120" height="17.90"/></clipPath><text x="885.36" y="1321.70" font-size="16.81" textLength="55.86" lengthAdjust="spacingAndGlyphs" fill="#000" clip-path="url(#clip886)">3 Hours</text>
<rect x="883.2" y="1202" width="197.8" height="46.6" fill="#808282"/><g><circle cx="903.2" cy="1225.3" r="14.2" fill="none" stroke="#fff" stroke-width="2.1"/><circle cx="903.4" cy="1219.6" r="1.5" fill="#fff"/><rect x="901.9" y="1222.6" width="3" height="10.8" fill="#fff"/></g><text x="940.79" y="1227.80" font-size="10.43" textLength="31.95" lengthAdjust="spacingAndGlyphs" fill="#fff">Saved</text>
<use href="#check" x="832.30" y="1234.50" width="39.00" height="39.00" style="color:#fff" /><use href="#back" x="832.30" y="1277.10" width="39.00" height="39.00" style="color:#fff" /><text x="807.80" y="1453.80" font-size="19.57" textLength="294.43" lengthAdjust="spacingAndGlyphs" fill="#000">A notice will inform that the value is</text>
<text x="851.27" y="1475.80" font-size="19.57" textLength="85.00" lengthAdjust="spacingAndGlyphs" fill="#000">saved. Tap</text>
<path d="M940.95 1468.73 L949.95 1461.32 L949.95 1465.85 C957.38 1466.26 962.33 1471.00 962.66 1480.89 C959.62 1474.71 955.80 1471.62 949.95 1471.41 L949.95 1476.77 Z" fill="none" stroke="#000" stroke-width="1.15" stroke-linejoin="miter"/><text x="966.82" y="1475.80" font-size="19.57" textLength="92.63" lengthAdjust="spacingAndGlyphs" fill="#000">to go back.</text>
<g transform="translate(272.15 187.63) scale(1.0530 1.0327) rotate(-36) scale(1 1)"><use href="#hand" width="70" height="82"/></g><g transform="translate(897.28 667.87) scale(0.8335 0.8311) rotate(36) scale(-1 1)"><use href="#hand" width="70" height="82"/></g><g transform="translate(958.14 771.24) scale(1.0619 1.0560) rotate(-36) scale(1 1)"><use href="#hand" width="70" height="82"/></g><g transform="translate(272.81 1150.16) scale(1.0501 1.0576) rotate(-36) scale(1 1)"><use href="#hand" width="70" height="82"/></g><g transform="translate(482.61 1260.76) scale(0.9756 1.0156) rotate(0) scale(1 1)"><use href="#hand" width="70" height="82"/></g><g transform="translate(578.91 1272.08) scale(1.0857 1.0743) rotate(-36) scale(1 1)"><use href="#hand" width="70" height="82"/></g><g transform="translate(821.31 1304.49) scale(0.9756 1.0113) rotate(0) scale(1 1)"><use href="#hand" width="70" height="82"/></g></svg>
</body></html>
